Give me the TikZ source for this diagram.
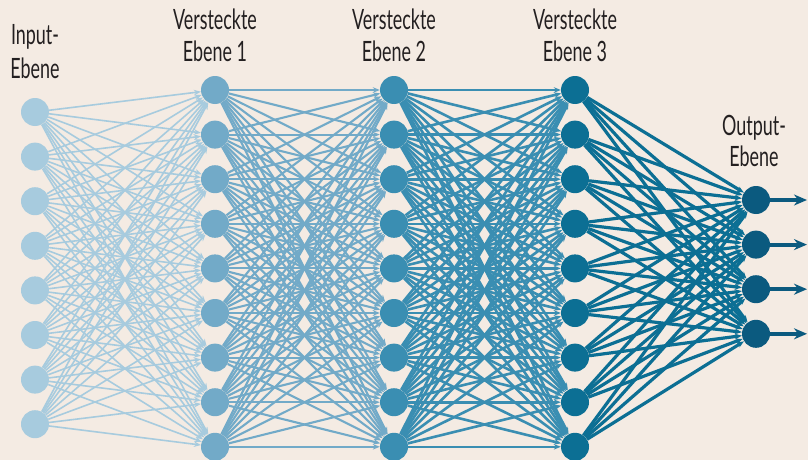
\documentclass[tikz,border=0pt]{standalone}
\usepackage{fontspec}
\setmainfont{Lato}[FakeStretch=0.64]
\usetikzlibrary{arrows.meta}
\definecolor{bgc}{HTML}{F4EBE3}
\definecolor{ink}{HTML}{231F20}
\definecolor{c0}{HTML}{A7CBDE}
\definecolor{c1}{HTML}{72AAC8}
\definecolor{c2}{HTML}{3A8EB2}
\definecolor{c3}{HTML}{0C6F94}
\definecolor{c4}{HTML}{0B5A7F}
\pgfdeclarelayer{bglayer}
\pgfdeclarelayer{edges}
\pgfsetlayers{bglayer,edges,main}
\begin{document}
\begin{tikzpicture}[x=1pt,y=-1pt,
  neuron/.style={circle, inner sep=0pt, minimum size=28pt},
  lbl/.style={anchor=base, inner sep=0pt, text=ink, font=\fontsize{28}{32}\selectfont},
  tip/.style={-{Stealth[length=7pt,width=5.5pt]}},
  e0/.style={tip, draw=c0, line width=1.6pt},
  e1/.style={tip, draw=c1, line width=2.1pt},
  e2/.style={tip, draw=c2, line width=2.6pt},
  e3/.style={tip, draw=c3, line width=3.2pt},
  outarrow/.style={draw=c4, line width=4pt, -{Stealth[length=13pt,width=11pt]}}]
\begin{pgfonlayer}{bglayer}
  \fill[bgc] (0,0) rectangle (808,460);
\end{pgfonlayer}
\useasboundingbox (0,0) rectangle (808,460);

% layers of neurons
\foreach \i in {1,...,8}
  \node[neuron, fill=c0] (a\i) at (35,{112+44.6*(\i-1)}) {};
\foreach \i in {1,...,9} {
  \node[neuron, fill=c1] (b\i) at (215,{90+44.6*(\i-1)}) {};
  \node[neuron, fill=c2] (c\i) at (394,{90+44.6*(\i-1)}) {};
  \node[neuron, fill=c3] (d\i) at (575,{90+44.6*(\i-1)}) {};
}
\foreach \i in {1,...,4} {
  \node[neuron, fill=c4] (e\i) at (756,{200+44.6*(\i-1)}) {};
  \coordinate (o\i) at (807,{200+44.6*(\i-1)});
}

% fully connected weights
\begin{pgfonlayer}{edges}
  \foreach \i in {1,...,8}
    \foreach \j in {1,...,9}
      \draw[e0] (a\i) -- (b\j);
  \foreach \i in {1,...,9}
    \foreach \j in {1,...,9}
      \draw[e1] (b\i) -- (c\j);
  \foreach \i in {1,...,9}
    \foreach \j in {1,...,9}
      \draw[e2] (c\i) -- (d\j);
  \foreach \i in {1,...,9}
    \foreach \j in {1,...,4}
      \draw[e3] (d\i) -- (e\j);
\end{pgfonlayer}

% outputs
\foreach \i in {1,...,4}
  \draw[outarrow] (e\i) -- (o\i);

% layer titles
\node[lbl] (tin1) at (35,45) {Input-};
\node[lbl] (tin2) at (35,78) {Ebene};
\node[lbl] (th11) at (215,30) {Versteckte};
\node[lbl] (th12) at (215,62) {Ebene 1};
\node[lbl] (th21) at (394,30) {Versteckte};
\node[lbl] (th22) at (394,62) {Ebene 2};
\node[lbl] (th31) at (575,30) {Versteckte};
\node[lbl] (th32) at (575,62) {Ebene 3};
\node[lbl] (tout1) at (754,135) {Output-};
\node[lbl] (tout2) at (754,166) {Ebene};
\end{tikzpicture}
\end{document}
